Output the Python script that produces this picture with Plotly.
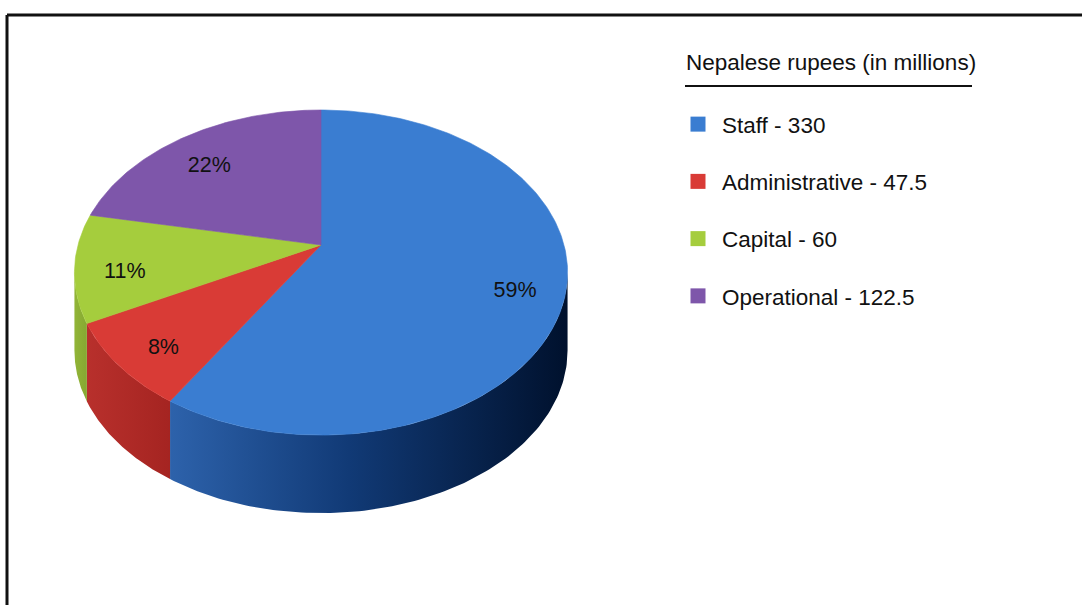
import numpy as np
import plotly.graph_objects as go

# Budget breakdown (Nepalese rupees, millions)
categories = ["Staff", "Administrative", "Capital", "Operational"]
values = [330, 47.5, 60, 122.5]

top_colors = ["#3A7DD1", "#D93B36", "#A5CD3D", "#7E56AA"]
side_scales = [
    [[0, "#2d62ab"], [0.45, "#113a76"], [1, "#00112d"]],
    [[0, "#b8302c"], [1, "#a52421"]],
    [[0, "#92b537"], [1, "#86a832"]],
    [[0, "#5f3f85"], [1, "#4a3068"]],
]

W, H = 1082, 605
FONT = "Liberation Sans, Arial, sans-serif"

# Perspective-projected pie: centre, radii, tilt factor, wall depth
CX, CY = 321, 245
RX, RY, K = 243, 157.9, 0.1695
DEPTH = 78
LABEL_R = 0.8


def project(phi, r=1.0):
    u = r * np.cos(phi)
    v = r * np.sin(phi)
    d = 1 + K * v
    return CX + RX * u / d, CY - RY * v / d


total = float(sum(values))
fracs = [v / total for v in values]
pct_labels = [f"{round(100 * f):d}%" for f in fracs]

# slice angle ranges, clockwise from 12 o'clock
starts, ends = [], []
a = np.pi / 2
for f in fracs:
    starts.append(a)
    a -= 2 * np.pi * f
    ends.append(a)

front_lo = -np.pi + np.arcsin(K)
front_hi = -np.arcsin(K)

fig = go.Figure()

# side walls (front half only)
for i in range(len(values)):
    lo = max(ends[i], front_lo)
    hi = min(starts[i], front_hi)
    if lo >= hi:
        continue
    t = np.linspace(lo, hi, 120)
    xt, yt = project(t)
    xs = np.concatenate([xt, xt[::-1], xt[:1]])
    ys = np.concatenate([yt, yt[::-1] + DEPTH, yt[:1]])
    fig.add_trace(go.Scatter(
        x=xs, y=ys, mode="lines", fill="toself",
        line=dict(width=0, color=top_colors[i]),
        fillgradient=dict(type="horizontal", colorscale=side_scales[i]),
        hoverinfo="skip", showlegend=False))

# top faces
for i in range(len(values)):
    n = max(int(abs(starts[i] - ends[i]) / (2 * np.pi) * 400), 20)
    t = np.linspace(starts[i], ends[i], n)
    xt, yt = project(t)
    xs = np.concatenate([[CX], xt, [CX]])
    ys = np.concatenate([[CY], yt, [CY]])
    fig.add_trace(go.Scatter(
        x=xs, y=ys, mode="lines", fill="toself", fillcolor=top_colors[i],
        line=dict(width=0.6, color=top_colors[i]),
        name=categories[i], hoverinfo="name", showlegend=False))

# percentage labels
mids = [(s + e) / 2 for s, e in zip(starts, ends)]
lx, ly = project(np.array(mids), LABEL_R)
fig.add_trace(go.Scatter(
    x=lx, y=ly + 10, mode="text", text=pct_labels,
    textfont=dict(family=FONT, size=21.5, color="#111111"),
    hoverinfo="skip", showlegend=False))

# legend entries
for i, (cat, v) in enumerate(zip(categories, values)):
    fig.add_trace(go.Scatter(
        x=[None], y=[None], mode="markers",
        marker=dict(symbol="square", size=15, color=top_colors[i]),
        name=f"{cat} - {v:g}", legendgroup=cat, showlegend=True))

fig.update_layout(
    width=W, height=H, autosize=False,
    margin=dict(l=0, r=0, t=0, b=0),
    paper_bgcolor="white", plot_bgcolor="white",
    xaxis=dict(range=[0, W], visible=False, fixedrange=True),
    yaxis=dict(range=[H, 0], visible=False, fixedrange=True),
    font=dict(family=FONT, color="#111111"),
    legend=dict(
        x=674 / W, y=1 - 103 / H, xanchor="left", yanchor="top",
        font=dict(family=FONT, size=22.5, color="#111111"),
        itemwidth=38, tracegroupgap=25, bgcolor="rgba(0,0,0,0)",
    ),
    annotations=[dict(
        x=684, y=62, xref="x", yref="y", xanchor="left", yanchor="middle",
        text="Nepalese rupees (in millions)", showarrow=False,
        font=dict(family=FONT, size=22.5, color="#111111"))],
    shapes=[
        dict(type="line", xref="x", yref="y", x0=685, x1=972, y0=86, y1=86,
             line=dict(color="#111111", width=2)),
        dict(type="line", xref="x", yref="y", x0=7, x1=W, y0=15, y1=15,
             line=dict(color="#111111", width=3)),
        dict(type="line", xref="x", yref="y", x0=7, x1=7, y0=15, y1=H,
             line=dict(color="#111111", width=3)),
    ],
)

fig.write_html("out.html")
